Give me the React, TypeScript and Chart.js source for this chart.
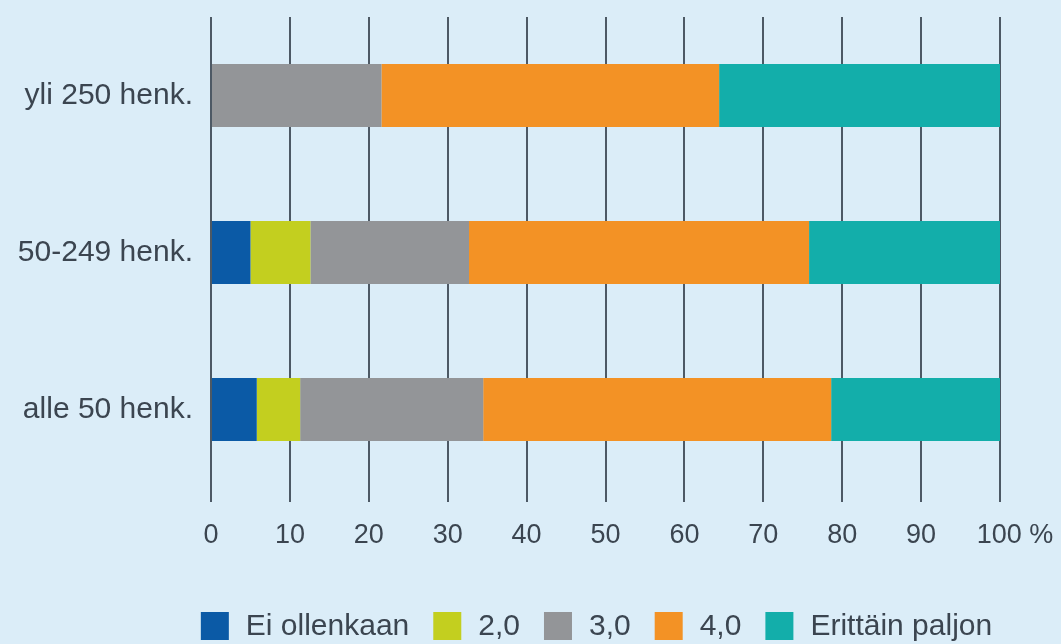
import React, { useEffect, useRef } from "react";
import { Chart, registerables } from "chart.js";

Chart.register(...registerables);

const categories = ["yli 250 henk.", "50-249 henk.", "alle 50 henk."];
const seriesNames = ["Ei ollenkaan", "2,0", "3,0", "4,0", "Erittäin paljon"];
const eiOllenkaan = [0, 5.0, 5.8];
const kaksi = [0, 7.6, 5.5];
const kolme = [21.6, 20.1, 23.2];
const nelja = [42.8, 43.1, 44.1];
const erittainPaljon = [35.6, 24.2, 21.4];
const seriesColors = ["#0b5aa6", "#c3cf1f", "#939598", "#f39225", "#13aeaa"];
const xTickValues = [0, 10, 20, 30, 40, 50, 60, 70, 80, 90, 100];
const xTickLabels = ["0", "10", "20", "30", "40", "50", "60", "70", "80", "90", "    100 %"];

const FONT = "'Liberation Sans', Arial, Helvetica, sans-serif";
const TEXT = "#3b4550";

const legendPlugin = {
  id: "bottomLegend",
  afterDraw(chart: any) {
    const ctx = chart.ctx;
    const area = chart.chartArea;
    const box = 28;
    const textGap = 17;
    const itemGap = 24;
    ctx.save();
    ctx.font = `30px ${FONT}`;
    ctx.textBaseline = "middle";
    ctx.textAlign = "left";
    const items = chart.data.datasets.map((ds: any) => ({
      label: ds.label as string,
      color: ds.backgroundColor as string,
      w: ctx.measureText(ds.label).width,
    }));
    const total =
      items.reduce((s: number, it: any) => s + box + textGap + it.w, 0) + itemGap * (items.length - 1);
    let x = (area.left + area.right) / 2 - 9 - total / 2;
    const top = chart.height - 32;
    for (const it of items) {
      ctx.fillStyle = it.color;
      ctx.fillRect(x, top, box, box);
      ctx.fillStyle = TEXT;
      ctx.fillText(it.label, x + box + textGap, top + box / 2 + 1);
      x += box + textGap + it.w + itemGap;
    }
    ctx.restore();
  },
};

export default function App() {
  const ref = useRef<HTMLCanvasElement | null>(null);

  useEffect(() => {
    document.body.style.margin = "0";
    const canvas = ref.current;
    if (!canvas) return;
    const seriesValues = [eiOllenkaan, kaksi, kolme, nelja, erittainPaljon];
    const chart = new Chart(canvas, {
      type: "bar",
      data: {
        labels: categories,
        datasets: seriesNames.map((name, i) => ({
          label: name,
          data: seriesValues[i],
          backgroundColor: seriesColors[i],
          borderWidth: 0,
          barPercentage: 0.4,
          categoryPercentage: 1,
        })),
      },
      plugins: [legendPlugin],
      options: {
        indexAxis: "y",
        animation: false,
        responsive: false,
        maintainAspectRatio: false,
        layout: { padding: { left: 0, right: 61, top: 17, bottom: 57 } },
        plugins: {
          tooltip: { enabled: false },
          legend: { display: false },
        },
        scales: {
          x: {
            stacked: true,
            min: 0,
            max: 100,
            afterBuildTicks: (s: any) => {
              s.ticks = xTickValues.map((v) => ({ value: v }));
            },
            afterFit: (s: any) => {
              s.height = 99;
              s.paddingLeft = 0;
              s.paddingRight = 0;
            },
            grid: {
              color: "#4d5965",
              lineWidth: 2,
              drawTicks: true,
              tickLength: 14,
            },
            border: { display: false },
            ticks: {
              padding: 17,
              color: TEXT,
              font: { family: FONT, size: 27 },
              maxRotation: 0,
              autoSkip: false,
              callback: (v: any) => {
                const idx = xTickValues.indexOf(Number(v));
                return idx >= 0 ? xTickLabels[idx] : "";
              },
            },
          },
          y: {
            stacked: true,
            afterFit: (s: any) => {
              s.width = 211;
              s.paddingTop = 0;
              s.paddingBottom = 0;
            },
            grid: { display: false, drawTicks: false },
            border: { display: false },
            ticks: {
              padding: 18,
              color: TEXT,
              font: { family: FONT, size: 30 },
            },
          },
        },
      },
    });
    return () => chart.destroy();
  }, []);

  return (
    <div
      style={{
        position: "fixed",
        left: 0,
        top: 0,
        width: 1061,
        height: 644,
        overflow: "hidden",
        background: "#dbedf8",
      }}
    >
      <canvas ref={ref} width={1061} height={644} style={{ display: "block", width: 1061, height: 644 }} />
    </div>
  );
}
